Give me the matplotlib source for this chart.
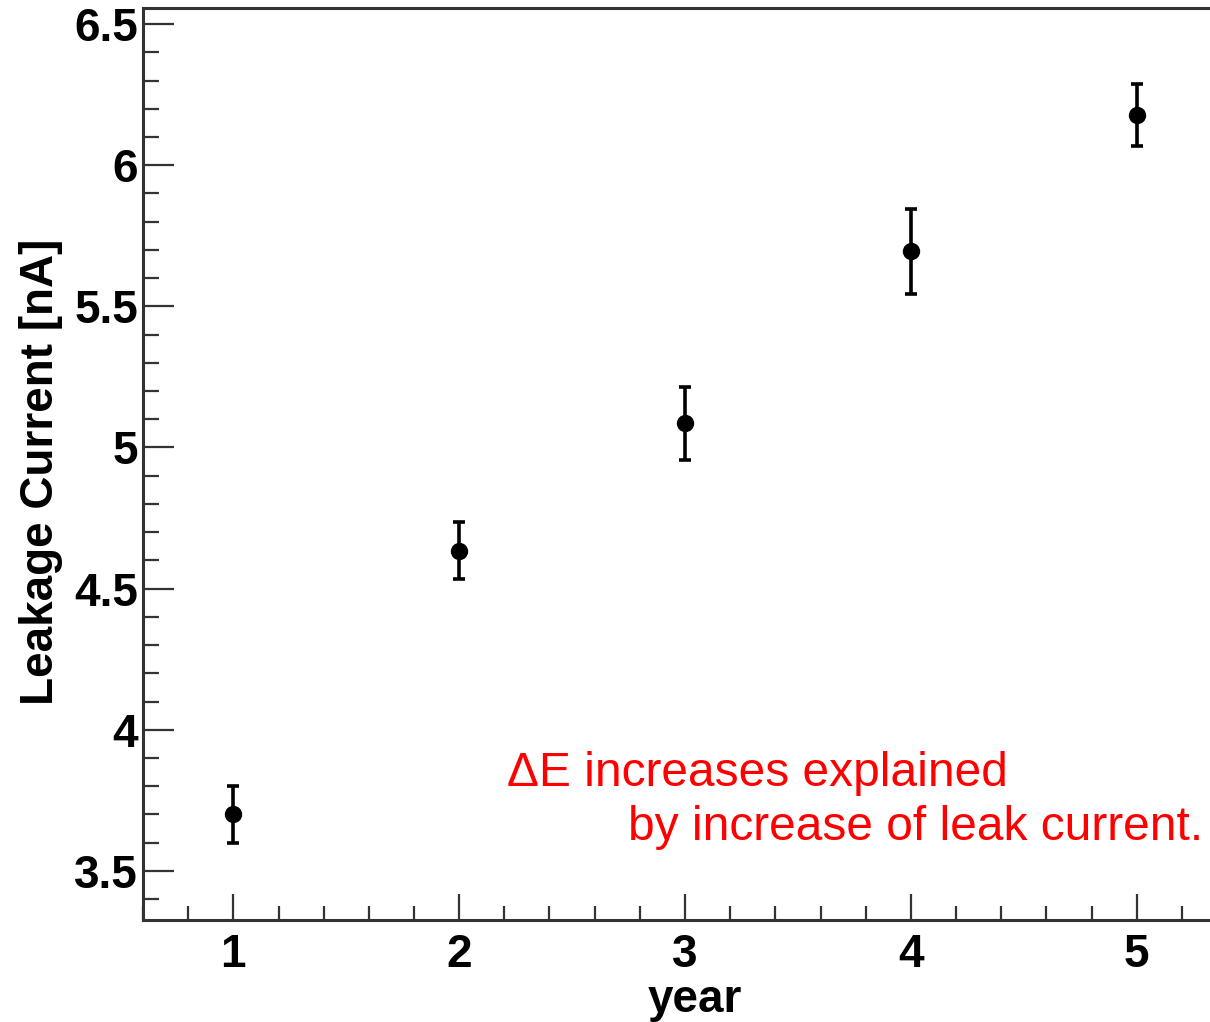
import numpy as np
import matplotlib
matplotlib.use('Agg')
import matplotlib.pyplot as plt
from matplotlib.ticker import MultipleLocator

# data
year = [1, 2, 3, 4, 5]
current = [3.70, 4.635, 5.085, 5.695, 6.177]
current_err = [0.10, 0.10, 0.13, 0.15, 0.11]

plt.rcParams['font.family'] = ['Liberation Sans', 'DejaVu Sans']

fig = plt.figure(figsize=(12.1, 10.22), dpi=100)
ax = fig.add_axes([143/1210, 102/1022, (1227-143)/1210, (920-8)/1022])

ax.errorbar(year, current, yerr=current_err, fmt='o', color='black',
            markersize=11.5, elinewidth=2.6, capsize=4.5, capthick=2.6)

ax.set_xlim(0.6, 5.4)
ax.set_ylim(3.326, 6.557)
ax.xaxis.set_major_locator(MultipleLocator(1))
ax.xaxis.set_minor_locator(MultipleLocator(0.2))
ax.yaxis.set_major_locator(MultipleLocator(0.5))
ax.yaxis.set_minor_locator(MultipleLocator(0.1))
ax.set_yticks([3.5, 4, 4.5, 5, 5.5, 6, 6.5])
ax.set_yticklabels(['3.5', '4', '4.5', '5', '5.5', '6', '6.5'])

ax.tick_params(axis='both', which='both', direction='in', top=False, right=False,
               width=1.6, color='#333333')
ax.tick_params(axis='y', which='major', length=22, pad=3.5, labelsize=33)
ax.tick_params(axis='y', which='minor', length=11.5)
ax.tick_params(axis='x', which='major', length=19, pad=9, labelsize=33)
ax.tick_params(axis='x', which='minor', length=10)
for lab in ax.get_xticklabels() + ax.get_yticklabels():
    lab.set_fontweight('bold')

for s in ax.spines.values():
    s.set_linewidth(2.2)
    s.set_color('#333333')

ax.set_ylabel('Leakage Current [nA]', fontsize=33, fontweight='bold')
ax.yaxis.set_label_coords(-0.074, 0.491)
ax.set_xlabel('year', fontsize=33, fontweight='bold')
ax.xaxis.set_label_coords(0.509, -0.064)

fam = ['Liberation Sans Narrow', 'Liberation Sans', 'DejaVu Sans']
fig.text(507/1210, 1 - 786/1022, 'ΔE increases explained', color='red',
         fontsize=34.5, family=fam, ha='left', va='baseline')
fig.text(1203/1210, 1 - 840/1022, 'by increase of leak current.', color='red',
         fontsize=34.5, family=fam, ha='right', va='baseline')

fig.savefig('out.png', dpi=100)
